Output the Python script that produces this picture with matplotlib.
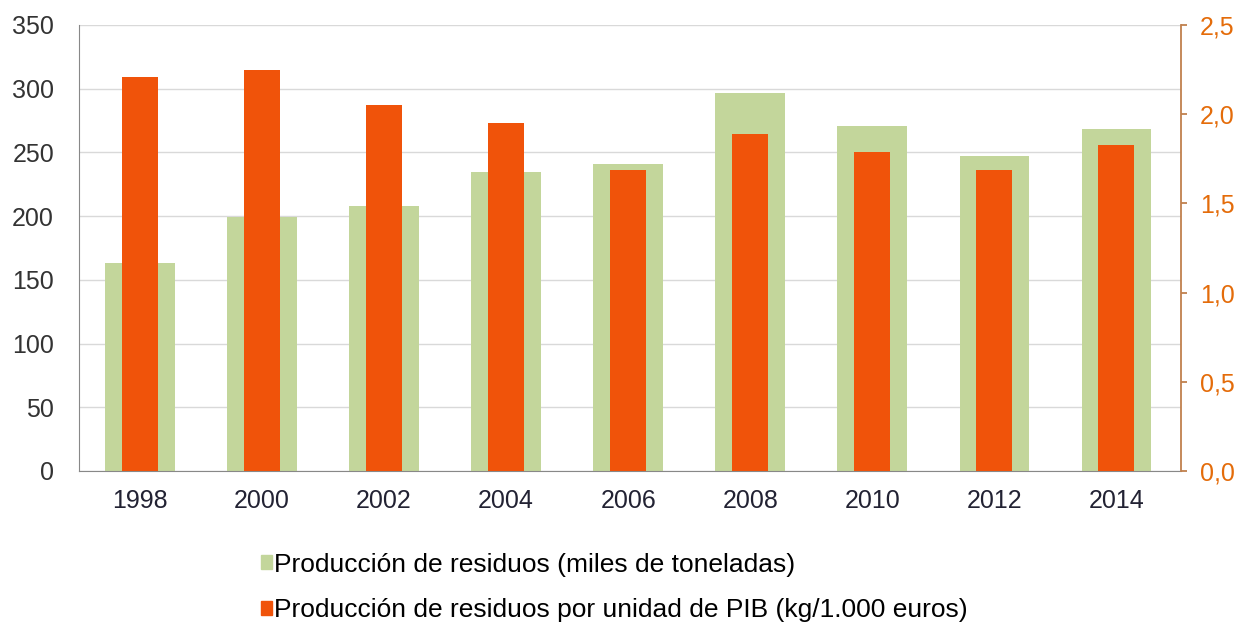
import matplotlib
matplotlib.use("Agg")
import matplotlib.pyplot as plt
from matplotlib.patches import Patch
import numpy as np

plt.rcParams['font.family'] = ['Liberation Sans', 'DejaVu Sans']

years = ['1998', '2000', '2002', '2004', '2006', '2008', '2010', '2012', '2014']
residuos = [163, 199, 208, 235, 241, 297, 271, 247, 268]
residuos_pib = [2.21, 2.25, 2.05, 1.95, 1.69, 1.89, 1.79, 1.69, 1.83]

green = '#C3D69B'
orange = '#F0530A'
right_col = '#E46C0A'

fig = plt.figure(figsize=(12.4, 6.24), dpi=100)
ax = fig.add_axes([79/1240, 1 - 471/624, (1181-79)/1240, (471-25)/624])
ax2 = ax.twinx()

x = np.arange(len(years))
ax.bar(x, residuos, width=0.57, color=green, zorder=2)
ax2.bar(x, residuos_pib, width=0.295, color=orange, zorder=3)

ax.set_ylim(0, 350)
ax.set_yticks(np.arange(0, 351, 50))
ax2.set_ylim(0, 2.5)
ax2.set_yticks(np.arange(0, 2.51, 0.5))
ax2.set_yticklabels([f"{v:.1f}".replace('.', ',') for v in np.arange(0, 2.51, 0.5)])
ax.set_xlim(-0.5, 8.53)
ax.set_xticks(x)
ax.set_xticklabels(years)

ax.grid(axis='y', color='#D9D9D9', linewidth=1, zorder=0)
ax.set_axisbelow(True)

for a in (ax, ax2):
    a.spines['top'].set_visible(False)
ax.spines['right'].set_visible(False)
ax.spines['left'].set_color('#888888')
ax.spines['bottom'].set_color('#888888')
ax2.spines['left'].set_visible(False)
ax2.spines['bottom'].set_visible(False)
ax2.spines['right'].set_color('#C0804D')
ax2.spines['right'].set_linewidth(1.3)

ax.tick_params(axis='y', length=0, labelsize=18, colors='#333333', pad=18)
ax.tick_params(axis='x', length=0, labelsize=18, colors='#222233', pad=13)
ax2.tick_params(axis='y', length=4.5, width=1.3, color='#C0804D', labelsize=18,
                labelcolor=right_col, pad=9, direction='out')

handles = [Patch(color=green), Patch(color=orange)]
labels = ['Producción de residuos (miles de toneladas)',
          'Producción de residuos por unidad de PIB (kg/1.000 euros)']
fig.legend(handles, labels, loc='upper left', bbox_to_anchor=(250/1240, 1 - 542/624),
           frameon=False, fontsize=19, handlelength=0.42, handleheight=0.42,
           handletextpad=0.1, labelspacing=0.82, borderaxespad=0)

fig.savefig('out.png', dpi=100)
